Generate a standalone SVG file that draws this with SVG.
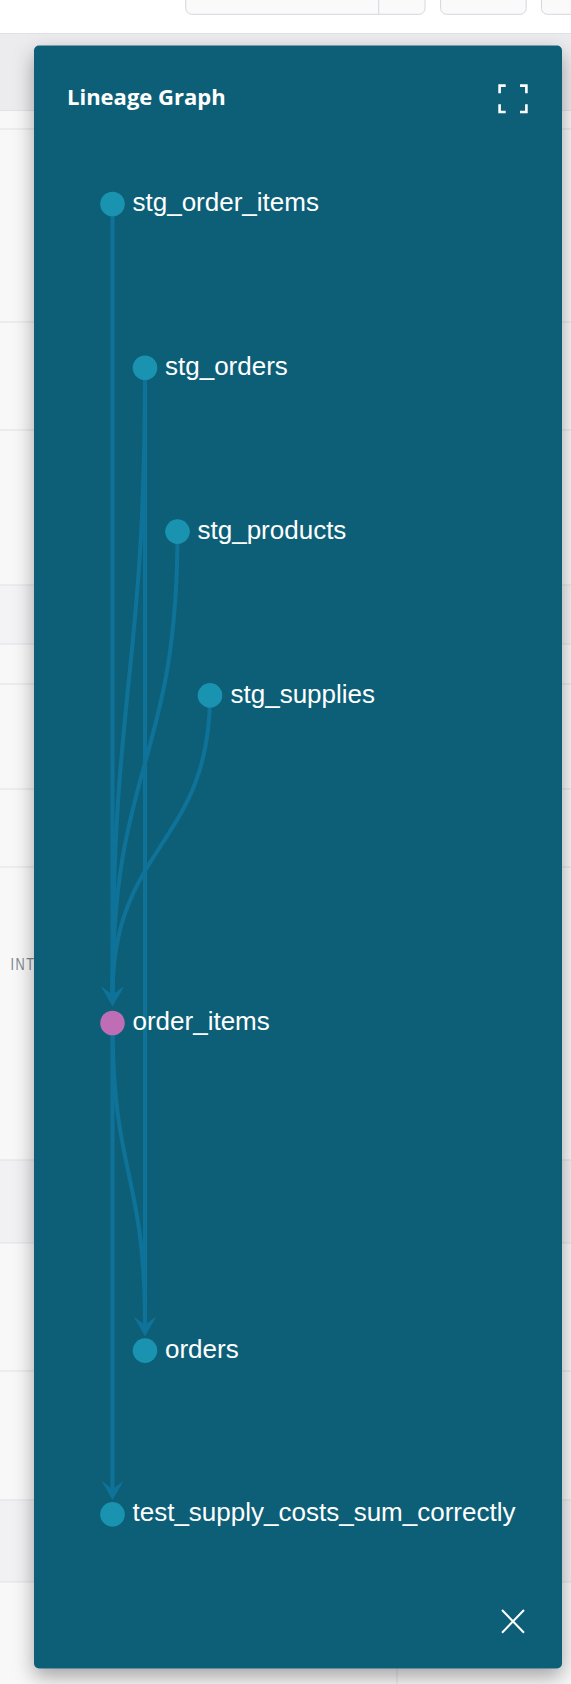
<svg xmlns="http://www.w3.org/2000/svg" width="571" height="1684" viewBox="0 0 571 1684">
<defs>
<style>
.edge{fill:none;stroke:#0f7399;stroke-width:4}
.arr{marker-end:url(#arrow)}
.node{fill:#1a93b0}
.lbl{font-family:"Liberation Sans",Arial,sans-serif;font-size:26px;fill:#ffffff}
.row{stroke:#e1e1e6;stroke-width:1}
.icon{fill:none;stroke:#ffffff;stroke-width:2.6}
</style>
<marker id="arrow" markerUnits="userSpaceOnUse" markerWidth="20" markerHeight="22" viewBox="0 0 20 22" refX="8" refY="11" orient="auto">
<path d="M0,0 L19,11 L0,22 L8,11 Z" fill="#0f7399"/>
</marker>
<filter id="shadow" x="-20%" y="-10%" width="140%" height="120%">
<feDropShadow dx="0" dy="8" stdDeviation="10" flood-color="#000000" flood-opacity="0.35"/>
</filter>
</defs>
<g id="page">
<rect x="0" y="0" width="571" height="1684" fill="#f8f8f9"/>
<rect x="0" y="0" width="571" height="33.5" fill="#ffffff"/>
<rect x="185.7" y="-10" width="239.3" height="24.3" rx="6" fill="#fafafb" stroke="#d6d6de"/>
<line x1="378.7" y1="0" x2="378.7" y2="14.3" stroke="#d6d6de"/>
<rect x="440.6" y="-10" width="85.6" height="24.3" rx="6" fill="#fafafb" stroke="#d6d6de"/>
<rect x="541.5" y="-10" width="60" height="24.3" rx="6" fill="#fafafb" stroke="#d6d6de"/>
<line x1="0" y1="33.5" x2="571" y2="33.5" stroke="#e0e0ea"/>
<rect x="0" y="34" width="571" height="76.5" fill="#ececef"/>
<rect x="0" y="585" width="571" height="59" fill="#f3f3f5"/>
<rect x="0" y="1160" width="571" height="83" fill="#f1f1f3"/>
<rect x="0" y="1500" width="571" height="82" fill="#f1f1f3"/>
<line class="row" x1="0" y1="110.5" x2="571" y2="110.5"/>
<line class="row" x1="0" y1="129" x2="571" y2="129"/>
<line class="row" x1="0" y1="322" x2="571" y2="322"/>
<line class="row" x1="0" y1="430" x2="571" y2="430"/>
<line class="row" x1="0" y1="585" x2="571" y2="585"/>
<line class="row" x1="0" y1="644" x2="571" y2="644"/>
<line class="row" x1="0" y1="684" x2="571" y2="684"/>
<line class="row" x1="0" y1="789" x2="571" y2="789"/>
<line class="row" x1="0" y1="867" x2="571" y2="867"/>
<line class="row" x1="0" y1="1160" x2="571" y2="1160"/>
<line class="row" x1="0" y1="1243" x2="571" y2="1243"/>
<line class="row" x1="0" y1="1371" x2="571" y2="1371"/>
<line class="row" x1="0" y1="1500" x2="571" y2="1500"/>
<line class="row" x1="0" y1="1582" x2="571" y2="1582"/>
<line class="row" x1="397" y1="1660" x2="397" y2="1684"/>
<text x="10.5" y="969.5" font-family="'Liberation Sans',Arial,sans-serif" font-size="17" letter-spacing="2" textLength="25" lengthAdjust="spacingAndGlyphs" fill="#7f878f">INT</text>
</g>
<g id="panel">
<rect x="34" y="45.5" width="528" height="1623" rx="5" fill="#0e5e78" filter="url(#shadow)"/>
<text x="67" y="105" font-family="'Open Sans','Noto Sans',sans-serif" font-weight="700" font-size="22" fill="#ffffff">Lineage Graph</text>
<g id="expand-icon">
<path class="icon" d="M499.6,93.3 V85.6 H505.7"/>
<path class="icon" d="M520,85.6 H526.4 V93.3"/>
<path class="icon" d="M499.6,104.3 V112 H505.7"/>
<path class="icon" d="M520,112 H526.4 V104.3"/>
</g>
<g id="close-icon">
<path d="M502,1610 L524,1632.7 M524,1610 L502,1632.7" stroke="#ffffff" stroke-width="2" fill="none"/>
</g>
</g>
<g id="connectors">
<path class="edge arr" d="M112.5,204 V995"/>
<path class="edge arr" d="M145,367.8 C145,681 112.5,681 112.5,995"/>
<path class="edge arr" d="M177.5,531.6 C177.5,763 112.5,763 112.5,995"/>
<path class="edge arr" d="M210,695.4 C210,845 112.5,845 112.5,995"/>
<path class="edge arr" d="M145,367.8 V1325"/>
<path class="edge arr" d="M112.5,1023 C112.5,1174 145,1174 145,1325"/>
<path class="edge arr" d="M112.5,1023 V1489"/>
</g>
<g id="node-stg_order_items"><circle class="node" cx="112.5" cy="204" r="12.3"/><text class="lbl" x="132.5" y="211">stg_order_items</text></g>
<g id="node-stg_orders"><circle class="node" cx="145" cy="367.8" r="12.3"/><text class="lbl" x="165" y="375">stg_orders</text></g>
<g id="node-stg_products"><circle class="node" cx="177.5" cy="531.6" r="12.3"/><text class="lbl" x="197.5" y="539">stg_products</text></g>
<g id="node-stg_supplies"><circle class="node" cx="210" cy="695.4" r="12.3"/><text class="lbl" x="230.5" y="702.5">stg_supplies</text></g>
<g id="node-order_items"><circle cx="112.5" cy="1023" r="12.3" fill="#bf6db5"/><text class="lbl" x="132.5" y="1030">order_items</text></g>
<g id="node-orders"><circle class="node" cx="145" cy="1350.6" r="12.3"/><text class="lbl" x="165" y="1357.6">orders</text></g>
<g id="node-test_supply_costs_sum_correctly"><circle class="node" cx="112.5" cy="1514.4" r="12.3"/><text class="lbl" x="132.5" y="1521.4">test_supply_costs_sum_correctly</text></g>
</svg>
